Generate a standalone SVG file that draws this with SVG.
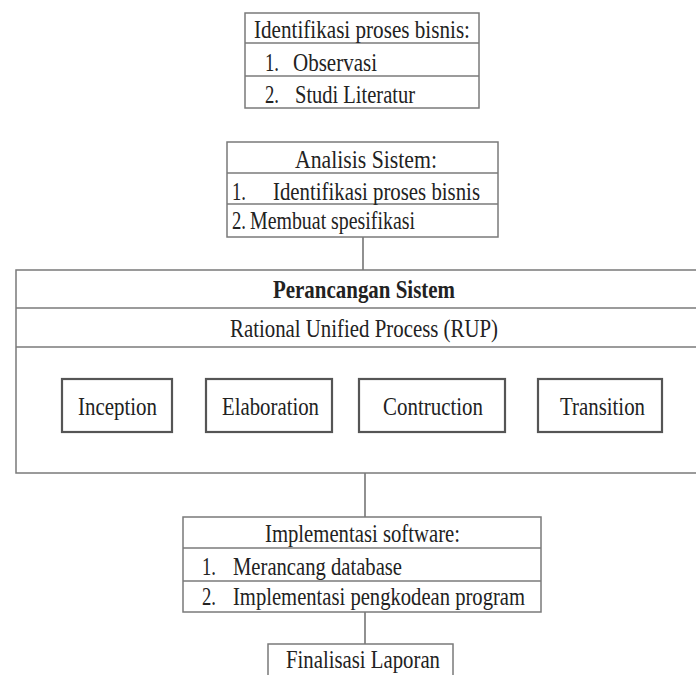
<svg xmlns="http://www.w3.org/2000/svg" width="696" height="675" viewBox="0 0 696 675">
<style>
  .tbl { fill: #ffffff; stroke: #7a7a7a; stroke-width: 1.5; }
  .div { stroke: #7a7a7a; stroke-width: 1.5; fill: none; }
  .phase { fill: #ffffff; stroke: #555555; stroke-width: 2.2; }
  .conn { stroke: #555555; stroke-width: 1.3; fill: none; }
  .t { font-size: 26px; fill: #222222; }
  .b { font-weight: bold; }
</style>
<rect width="696" height="675" fill="#ffffff"/>

<g id="connectors">
  <line class="conn" x1="363" y1="237" x2="363" y2="270"/>
  <line class="conn" x1="365" y1="473" x2="365" y2="517"/>
  <line class="conn" x1="365" y1="612" x2="365" y2="644"/>
</g>

<g font-family="Liberation Serif, Times New Roman, DejaVu Serif, serif">
<g id="identifikasi">
  <rect class="tbl" x="245" y="13" width="234" height="95"/>
  <line class="div" x1="245" y1="43" x2="479" y2="43"/>
  <line class="div" x1="245" y1="76" x2="479" y2="76"/>
  <text class="t" x="254" y="38" textLength="216" lengthAdjust="spacingAndGlyphs">Identifikasi proses bisnis:</text>
  <text class="t" x="265" y="71" textLength="14" lengthAdjust="spacingAndGlyphs">1.</text>
  <text class="t" x="293" y="71" textLength="84" lengthAdjust="spacingAndGlyphs">Observasi</text>
  <text class="t" x="265" y="103" textLength="14" lengthAdjust="spacingAndGlyphs">2.</text>
  <text class="t" x="295" y="103" textLength="120" lengthAdjust="spacingAndGlyphs">Studi Literatur</text>
</g>

<g id="analisis">
  <rect class="tbl" x="227" y="142" width="271" height="95"/>
  <line class="div" x1="227" y1="173" x2="498" y2="173"/>
  <line class="div" x1="227" y1="204" x2="498" y2="204"/>
  <text class="t" x="295" y="168" textLength="142" lengthAdjust="spacingAndGlyphs">Analisis Sistem:</text>
  <text class="t" x="232" y="200" textLength="14" lengthAdjust="spacingAndGlyphs">1.</text>
  <text class="t" x="273" y="200" textLength="207" lengthAdjust="spacingAndGlyphs">Identifikasi proses bisnis</text>
  <text class="t" x="232" y="229" textLength="14" lengthAdjust="spacingAndGlyphs">2.</text>
  <text class="t" x="250" y="229" textLength="165" lengthAdjust="spacingAndGlyphs">Membuat spesifikasi</text>
</g>

<g id="perancangan">
  <rect class="tbl" x="16" y="270" width="720" height="203"/>
  <line class="div" x1="16" y1="308" x2="736" y2="308"/>
  <line class="div" x1="16" y1="347" x2="736" y2="347"/>
  <text class="t b" x="273" y="298" textLength="182" lengthAdjust="spacingAndGlyphs">Perancangan Sistem</text>
  <text class="t" x="230" y="337" textLength="268" lengthAdjust="spacingAndGlyphs">Rational Unified Process (RUP)</text>
</g>

<g id="inception">
  <rect class="phase" x="62" y="379" width="110" height="53"/>
  <text class="t" x="78" y="415" textLength="79" lengthAdjust="spacingAndGlyphs">Inception</text>
</g>
<g id="elaboration">
  <rect class="phase" x="206" y="379" width="126" height="53"/>
  <text class="t" x="222" y="415" textLength="97" lengthAdjust="spacingAndGlyphs">Elaboration</text>
</g>
<g id="contruction">
  <rect class="phase" x="359" y="379" width="146" height="53"/>
  <text class="t" x="383" y="415" textLength="100" lengthAdjust="spacingAndGlyphs">Contruction</text>
</g>
<g id="transition">
  <rect class="phase" x="538" y="379" width="124" height="53"/>
  <text class="t" x="560" y="415" textLength="85" lengthAdjust="spacingAndGlyphs">Transition</text>
</g>

<g id="implementasi">
  <rect class="tbl" x="183" y="517" width="358" height="95"/>
  <line class="div" x1="183" y1="548" x2="541" y2="548"/>
  <line class="div" x1="183" y1="581" x2="541" y2="581"/>
  <text class="t" x="265" y="542" textLength="195" lengthAdjust="spacingAndGlyphs">Implementasi software:</text>
  <text class="t" x="202" y="575" textLength="14" lengthAdjust="spacingAndGlyphs">1.</text>
  <text class="t" x="233" y="575" textLength="169" lengthAdjust="spacingAndGlyphs">Merancang database</text>
  <text class="t" x="202" y="605" textLength="14" lengthAdjust="spacingAndGlyphs">2.</text>
  <text class="t" x="233" y="605" textLength="292" lengthAdjust="spacingAndGlyphs">Implementasi pengkodean program</text>
</g>

<g id="finalisasi">
  <rect class="tbl" x="268" y="644" width="185" height="50"/>
  <text class="t" x="286" y="668" font-size="25" textLength="154" lengthAdjust="spacingAndGlyphs">Finalisasi Laporan</text>
</g>
</g>
</svg>
